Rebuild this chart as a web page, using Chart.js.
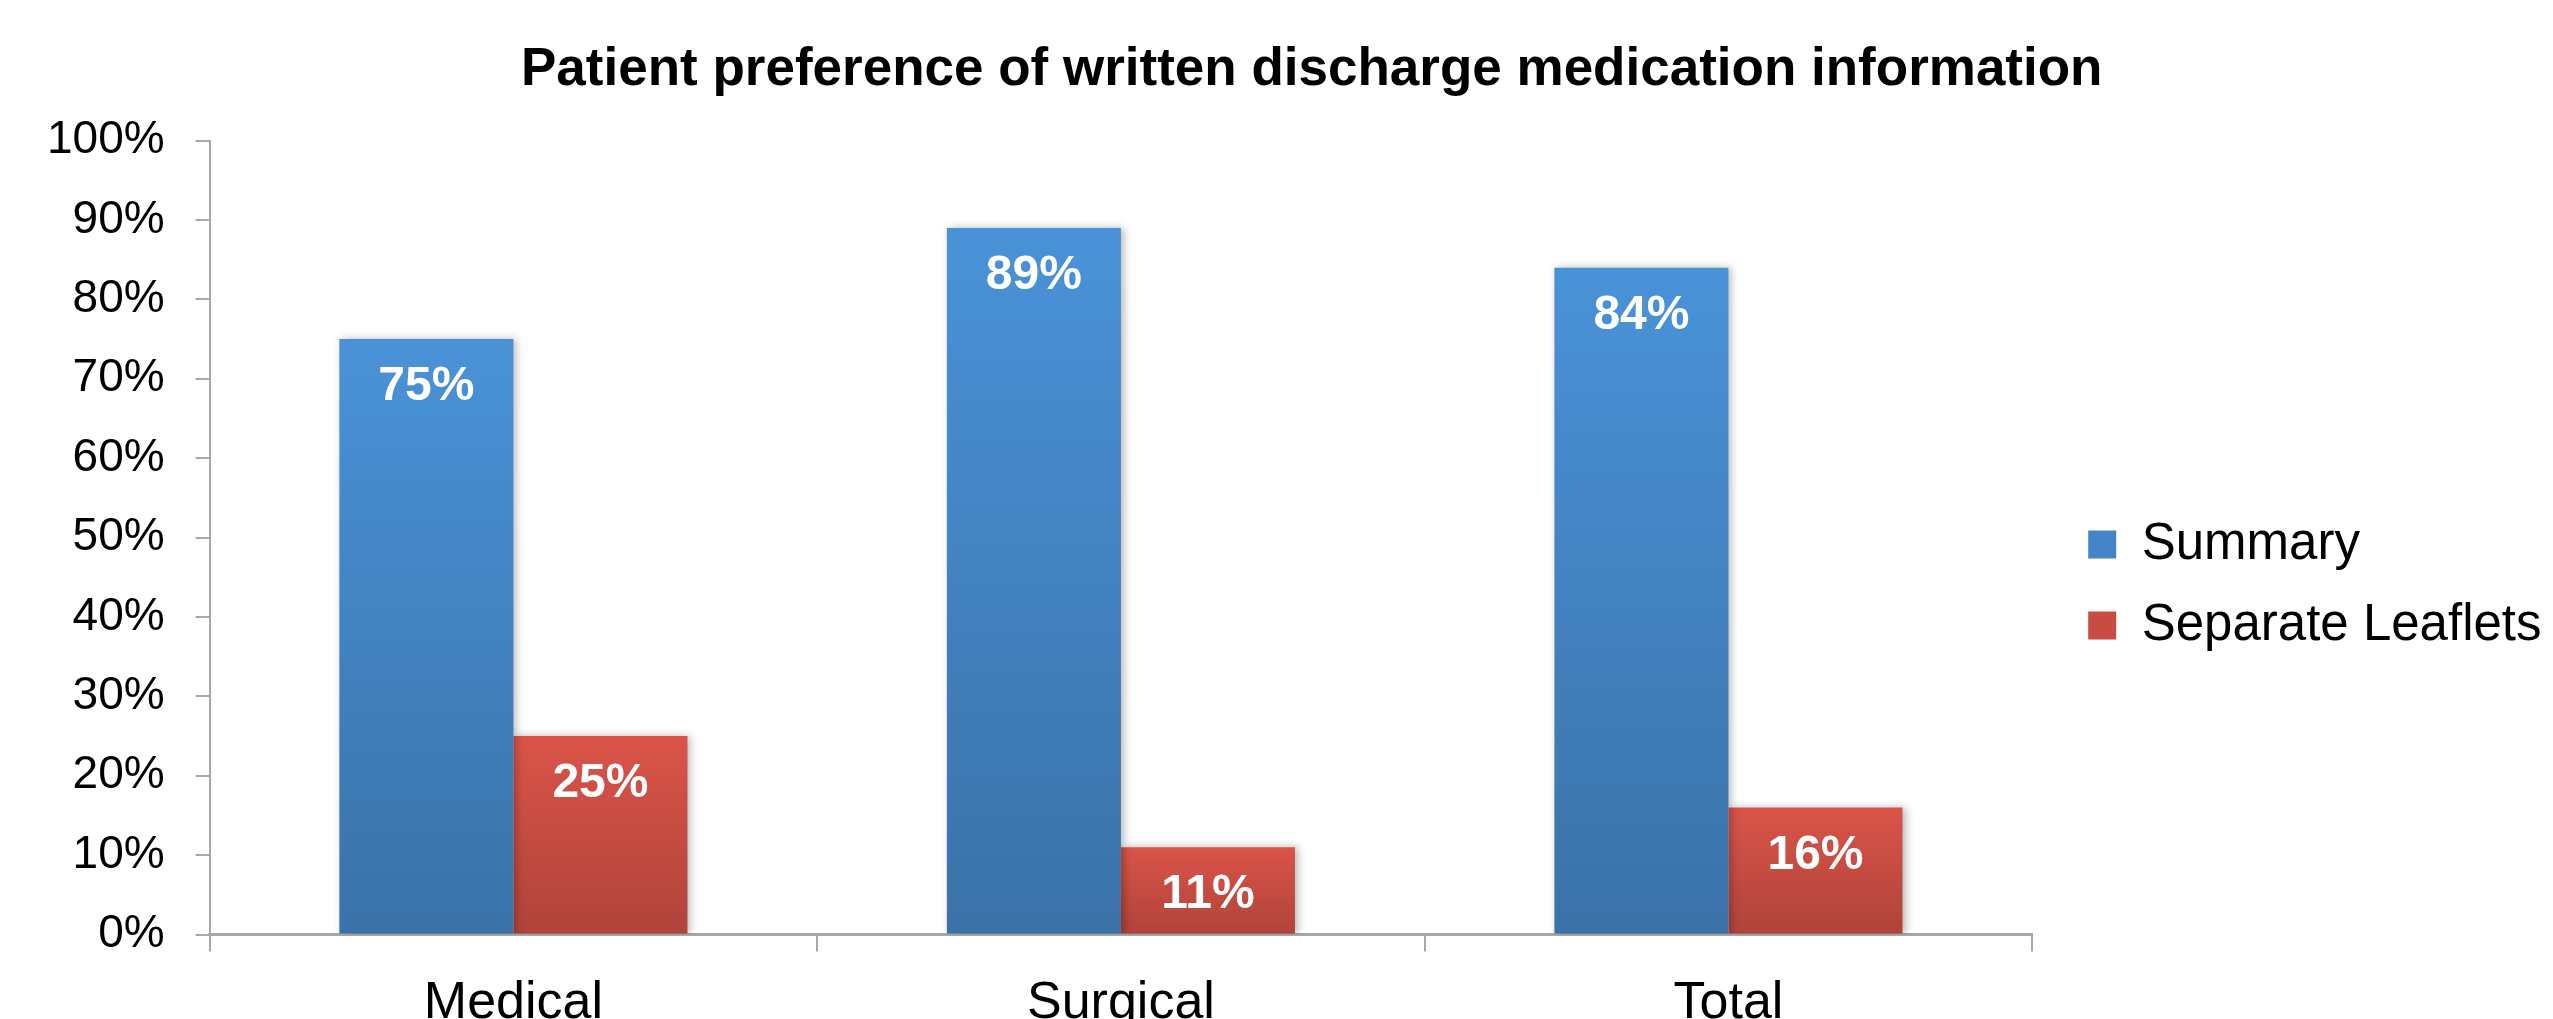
<!DOCTYPE html>
<html lang="en">
<head>
    <meta charset="UTF-8">
    <title>Patient preference of written discharge medication information</title>
    <!-- Chart.js -->
    <script src="https://cdn.jsdelivr.net/npm/chart.js@4"></script>
    <style>
        html, body { margin: 0; padding: 0; background: #fff; overflow: hidden; }
        .wrap { position: relative; width: 2553px; height: 1056px; }
    </style>
</head>
<body>
    <div class="wrap"><canvas id="graphique"></canvas></div>

    <script>
        // Data
        const categories = ['Medical', 'Surgical', 'Total'];
        const seriesNames = ['Summary', 'Separate Leaflets'];
        const summaryValues = [75, 89, 84];
        const leafletValues = [25, 11, 16];
        const yTickValues = [0, 10, 20, 30, 40, 50, 60, 70, 80, 90, 100];

        const FONT = '"Liberation Sans", Arial, Helvetica, sans-serif';
        const AXIS_GREY = '#a8a8a8';
        Chart.defaults.font.family = FONT;
        Chart.defaults.color = '#000';

        // Vertical gradient per bar (lighter on top)
        function barGradient(top, bottom) {
            return (ctx) => {
                const chart = ctx.chart;
                const area = chart.chartArea;
                if (!area || ctx.type !== 'data') return top;
                const yTop = chart.scales.y.getPixelForValue(ctx.raw);
                const g = chart.ctx.createLinearGradient(0, yTop, 0, area.bottom);
                g.addColorStop(0, top);
                g.addColorStop(1, bottom);
                return g;
            };
        }

        // Soft shadow behind the bars
        const barShadow = {
            id: 'barShadow',
            beforeDatasetsDraw(chart) {
                const c = chart.ctx;
                c.save();
                c.shadowColor = 'rgba(0,0,0,0.28)';
                c.shadowBlur = 8;
                c.shadowOffsetX = 3;
                c.shadowOffsetY = 0;
            },
            afterDatasetsDraw(chart) {
                chart.ctx.restore();
            }
        };

        // White value labels inside the top of each bar
        const valueLabels = {
            id: 'valueLabels',
            afterDatasetsDraw(chart) {
                const c = chart.ctx;
                c.save();
                c.font = 'bold 48px ' + FONT;
                c.fillStyle = '#fff';
                c.textAlign = 'center';
                c.textBaseline = 'middle';
                chart.data.datasets.forEach((ds, i) => {
                    chart.getDatasetMeta(i).data.forEach((bar, j) => {
                        c.fillText(ds.data[j] + '%', bar.x, bar.y + 48);
                    });
                });
                c.restore();
            }
        };

        // Small position tweaks for title and legend
        const nudge = {
            id: 'nudge',
            afterLayout(chart) {
                const lg = chart.legend;
                lg.left += 26; lg.right += 26;
                lg.top += 57; lg.bottom += 57;
                const t = chart.titleBlock;
                t.left += 41; t.right += 41;
            }
        };

        const ctx = document.getElementById('graphique').getContext('2d');
        const myChart = new Chart(ctx, {
            type: 'bar',
            data: {
                labels: categories,
                datasets: [{
                    label: seriesNames[0],
                    data: summaryValues,
                    backgroundColor: barGradient('#4a92d8', '#3a72a8'),
                    categoryPercentage: 0.573,
                    barPercentage: 1
                }, {
                    label: seriesNames[1],
                    data: leafletValues,
                    backgroundColor: barGradient('#da5449', '#b0433a'),
                    categoryPercentage: 0.573,
                    barPercentage: 1
                }]
            },
            options: {
                responsive: true,
                maintainAspectRatio: false,
                animation: false,
                layout: { padding: { left: 16, right: 27.5, top: 0, bottom: 0 } },
                plugins: {
                    title: {
                        display: true,
                        text: 'Patient preference of written discharge medication information',
                        color: '#000',
                        font: { size: 53, weight: 'bold' },
                        padding: { top: 39, bottom: 38 }
                    },
                    legend: {
                        position: 'right',
                        labels: {
                            boxWidth: 28,
                            boxHeight: 28,
                            padding: 30,
                            color: '#000',
                            font: { size: 51 },
                            generateLabels(chart) {
                                const solid = ['#4385c6', '#c94c42'];
                                return chart.data.datasets.map((ds, i) => ({
                                    text: ds.label,
                                    fillStyle: solid[i],
                                    strokeStyle: solid[i],
                                    lineWidth: 0,
                                    datasetIndex: i
                                }));
                            }
                        }
                    },
                    tooltip: { enabled: false }
                },
                scales: {
                    x: {
                        grid: {
                            offset: true,
                            drawOnChartArea: false,
                            color: AXIS_GREY,
                            lineWidth: 2,
                            tickLength: 17
                        },
                        border: { color: AXIS_GREY, width: 3 },
                        ticks: { color: '#000', font: { size: 52 }, padding: 21 }
                    },
                    y: {
                        min: 0,
                        max: 100,
                        afterBuildTicks(scale) {
                            scale.ticks = yTickValues.map(v => ({ value: v }));
                        },
                        grid: {
                            drawOnChartArea: false,
                            color: AXIS_GREY,
                            lineWidth: 2,
                            tickLength: 14
                        },
                        border: { color: AXIS_GREY, width: 2 },
                        ticks: {
                            color: '#000',
                            font: { size: 46 },
                            padding: 31,
                            callback: (v) => v + '%'
                        }
                    }
                }
            },
            plugins: [barShadow, valueLabels, nudge]
        });
    </script>
</body>
</html>
